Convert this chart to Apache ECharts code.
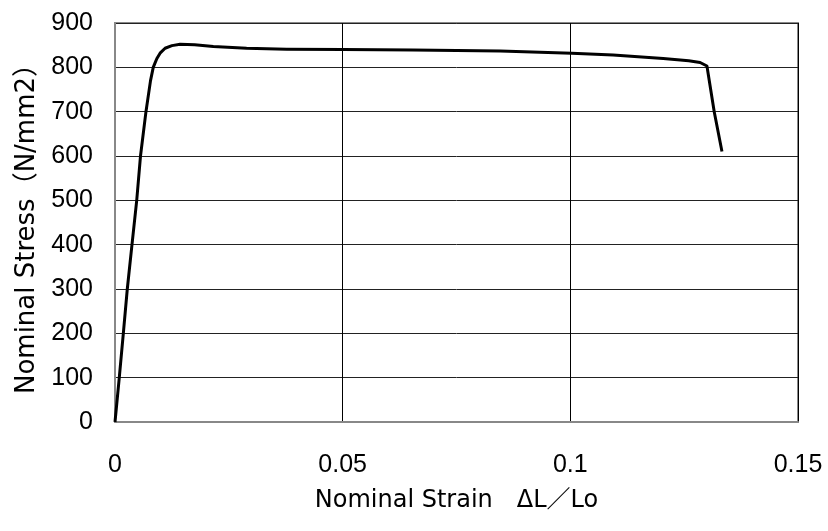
<!DOCTYPE html>
<html><head><meta charset="utf-8">
<script src="https://cdn.jsdelivr.net/npm/echarts@6/dist/echarts.min.js"></script>
<style>html,body{margin:0;padding:0;background:#fff}#c{width:828px;height:531px}</style>
</head><body><div id="c"></div>
<script>
const strain = [0,0.00094,0.00183,0.0027,0.00373,0.00477,0.0056,0.0068,0.0078,0.0084,0.0088,0.0092,0.0099,0.0110,0.0125,0.0143,0.0175,0.0216,0.0289,0.0377,0.0501,0.0654,0.0846,0.1003,0.1094,0.1204,0.1260,0.1285,0.1300,0.1316,0.1333];
const stress = [0,100,200,300,400,500,600,700,770,800,810,820,832,843,849,852,851,847,843,841,840,839,837,832,828,820,815,811,803,700,610];
const xTitle = 'Nominal Strain　ΔL／Lo';
const yTitle = 'Nominal Stress（N/mm2）';
const titleFont = '"DejaVu Sans", "Noto Sans CJK JP", sans-serif';
const tickFont = '"Liberation Sans", Arial, sans-serif';
const chart = echarts.init(document.getElementById('c'));
chart.setOption({
  animation:false,
  grid:{left:115,top:23,right:30,bottom:109,show:true,borderColor:'#888',borderWidth:2},
  xAxis:{type:'value',min:0,max:0.15,interval:0.05,
    name:xTitle,nameLocation:'middle',nameGap:67,
    nameTextStyle:{fontFamily:titleFont,fontSize:24,color:'#000'},
    axisLabel:{fontFamily:tickFont,fontSize:25,color:'#000',margin:31,formatter:v=>String(+v.toFixed(2))},
    axisLine:{lineStyle:{color:'#888',width:2}},axisTick:{show:false},
    splitLine:{lineStyle:{color:'#000',width:1}}},
  yAxis:{type:'value',min:0,max:900,interval:100,
    name:yTitle,nameLocation:'middle',nameGap:71,
    nameTextStyle:{fontFamily:titleFont,fontSize:26,color:'#000'},
    axisLabel:{fontFamily:tickFont,fontSize:25,color:'#000',margin:22},
    axisLine:{show:true,lineStyle:{color:'#888',width:2}},axisTick:{show:false},
    splitLine:{lineStyle:{color:'#222',width:1}}},
  series:[{type:'line',data:strain.map((s,i)=>[s,stress[i]]),showSymbol:false,smooth:false,
    lineStyle:{color:'#000',width:3,join:'round'}}]
});
</script></body></html>
